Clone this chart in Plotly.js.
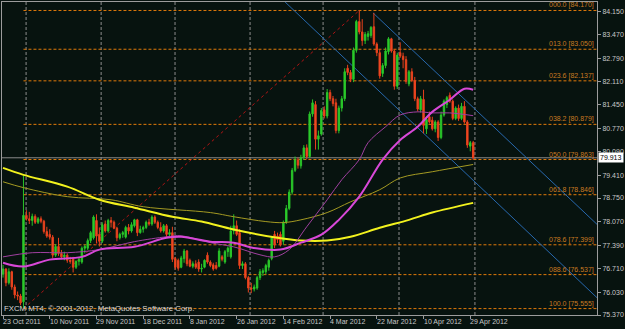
<!DOCTYPE html>
<html><head><meta charset="utf-8">
<script src="https://cdn.plot.ly/plotly-3.0.1.min.js"></script>
<style>html,body{margin:0;padding:0;background:#07130f;}#chart{width:625px;height:329px;}</style>
</head><body><div id="chart"></div>
<script>
// USDJPY daily (FXCM, MT4)
const openP = [76.55,76.70,76.30,76.62,76.18,75.95,75.92,75.75,78.25,78.15,78.10,78.22,78.05,78.15,78.08,77.78,77.70,77.62,77.10,77.35,
77.15,77.05,77.10,76.95,77.00,76.75,76.92,76.90,77.30,77.30,77.52,77.60,78.10,77.70,77.50,78.00,77.80,78.10,78.05,77.88,
77.60,77.70,77.62,77.90,77.80,77.95,78.12,77.75,77.85,77.90,78.05,78.00,78.20,78.05,77.90,77.80,77.95,77.70,77.75,77.00,
76.95,76.75,77.00,77.22,76.95,76.78,76.85,76.90,76.70,76.75,77.10,76.90,76.82,76.80,76.78,77.05,76.90,77.20,77.05,77.80,
77.95,77.75,76.80,76.85,76.45,76.15,76.12,76.15,76.45,76.60,76.62,76.75,77.00,77.70,77.65,77.70,77.50,78.05,78.45,78.92,
79.55,79.85,79.68,79.92,80.20,79.95,81.18,81.45,80.45,80.60,81.30,81.12,81.80,81.62,81.50,80.70,81.35,81.62,82.50,82.38,
82.18,83.02,83.85,83.55,83.30,83.42,83.45,83.70,83.20,82.95,82.35,82.58,82.98,83.35,83.00,81.98,82.95,82.85,82.75,82.05,
82.40,82.15,81.62,81.30,81.60,80.75,81.10,81.00,80.75,80.95,80.50,81.15,81.45,81.72,81.55,81.05,81.35,81.05,81.40,80.95,
80.25,80.35];
const highP = [76.82,76.72,76.72,76.65,76.25,76.05,75.98,79.40,78.40,78.35,78.30,78.28,78.20,78.22,78.12,77.92,77.85,77.68,77.42,77.60,
77.25,77.20,77.15,77.05,77.05,76.95,77.05,77.35,77.40,77.58,77.80,78.25,78.28,77.90,78.05,78.10,78.15,78.20,78.10,77.92,
77.75,77.80,77.95,78.00,78.05,78.15,78.15,77.95,77.95,78.10,78.15,78.25,78.25,78.10,78.05,78.00,78.00,77.85,77.92,77.05,
77.00,77.08,77.28,77.25,77.00,76.92,76.95,76.98,76.85,76.98,77.18,76.95,76.88,76.90,77.30,77.10,77.25,77.35,77.95,78.28,
78.10,77.85,76.92,76.90,76.50,76.30,76.25,76.50,76.70,76.72,76.85,77.00,77.65,77.80,77.75,77.78,78.10,78.55,79.00,79.62,
79.95,79.92,80.00,80.28,80.30,81.25,81.60,81.55,80.70,81.35,81.40,81.90,81.88,81.70,81.62,81.42,81.70,82.50,82.60,82.45,
83.10,83.90,84.18,83.92,83.55,83.58,83.72,84.10,83.25,83.05,82.65,83.10,83.40,83.38,83.05,82.95,83.25,82.95,82.85,82.45,
82.50,82.25,81.68,81.70,81.88,81.10,81.25,81.10,81.00,81.00,81.25,81.60,81.70,81.80,81.60,81.40,81.45,81.50,81.55,81.00,
80.40,80.40];
const lowP = [76.45,76.20,76.25,76.10,75.85,75.80,75.65,75.56,78.10,78.00,77.95,78.00,78.00,78.02,77.72,77.60,77.55,77.02,77.05,77.08,
76.98,76.95,76.88,76.85,76.60,76.70,76.80,76.85,77.15,77.25,77.45,77.55,77.45,77.35,77.45,77.75,77.75,77.90,77.85,77.50,
77.55,77.60,77.58,77.70,77.75,77.90,77.65,77.72,77.75,77.85,77.95,77.95,78.00,77.85,77.75,77.75,77.62,77.65,76.90,76.68,
76.65,76.72,76.88,76.78,76.75,76.72,76.70,76.62,76.60,76.72,76.85,76.75,76.65,76.68,76.75,76.92,76.85,77.05,77.00,77.70,
77.65,76.70,76.70,76.40,76.02,76.00,76.05,76.10,76.38,76.50,76.55,76.65,76.95,77.30,77.45,77.35,77.40,78.00,78.40,78.85,
79.50,79.60,79.60,79.85,79.88,79.90,81.10,80.15,80.15,80.55,81.05,81.05,81.55,81.40,80.62,80.62,81.25,81.55,82.30,82.10,
82.10,82.95,83.48,83.15,83.20,83.30,83.38,83.15,82.85,82.20,82.25,82.50,82.90,82.95,81.88,81.90,82.80,82.50,82.05,81.98,
82.10,81.55,81.25,81.22,80.62,80.60,80.90,80.70,80.65,80.40,80.45,81.10,81.35,81.50,81.00,81.00,80.98,81.00,80.90,80.20,
80.10,79.85];
const closeP = [76.70,76.30,76.62,76.18,75.95,75.92,75.72,78.25,78.15,78.10,78.22,78.05,78.15,78.08,77.78,77.65,77.62,77.10,77.35,77.15,
77.05,77.10,76.95,76.92,76.75,76.92,76.98,77.30,77.35,77.52,77.75,78.20,77.65,77.50,77.98,77.80,78.10,78.05,77.88,77.60,
77.70,77.75,77.90,77.80,77.98,78.12,77.75,77.85,77.90,78.05,78.00,78.20,78.05,77.90,77.80,77.95,77.70,77.75,76.98,76.75,
76.72,77.02,77.22,76.85,76.78,76.85,76.75,76.70,76.72,76.95,76.90,76.80,76.70,76.72,77.22,76.98,77.20,77.30,77.80,77.95,
77.70,76.80,76.85,76.45,76.15,76.12,76.18,76.45,76.62,76.65,76.80,76.95,77.60,77.40,77.55,77.40,78.05,78.45,78.92,79.55,
79.85,79.70,79.92,80.20,79.95,81.18,81.50,80.45,80.55,81.28,81.12,81.80,81.62,81.48,80.70,81.35,81.62,82.40,82.38,82.18,
83.02,83.85,83.55,83.30,83.48,83.50,83.68,83.20,82.95,82.28,82.58,83.00,83.35,83.00,81.98,82.88,82.85,82.75,82.12,82.40,
82.15,81.62,81.32,81.62,80.85,81.02,80.95,80.75,80.95,80.50,81.15,81.55,81.65,81.55,81.05,81.35,81.05,81.40,80.95,80.28,
80.35,79.913];

// x-axis labels (every 16 bars)
const dateTickIdx = [0,16,32,48,64,80,96,112,128,144,160];
const dateTickText = ['23 Oct 2011','10 Nov 2011','29 Nov 2011','18 Dec 2011','8 Jan 2012','26 Jan 2012','14 Feb 2012','4 Mar 2012','22 Mar 2012','10 Apr 2012','29 Apr 2012'];

// price scale labels
const priceTicks = [84.150,83.470,82.790,82.110,81.450,80.770,80.090,79.410,78.750,78.070,77.390,76.710,76.030,75.370];

// moving averages
const maYellowIdx = [0,7,22,33,45,58,68,79,94,102,111,119,129,139,147,161];
const maYellow    = [79.62,79.42,79.08,78.70,78.47,78.21,78.07,77.84,77.60,77.52,77.52,77.63,77.89,78.12,78.33,78.61];
const maOliveIdx  = [0,7,22,37,48,71,79,90,96,102,111,119,129,136,147,161];
const maOlive     = [79.22,79.05,78.79,78.70,78.50,78.33,78.21,78.07,78.04,78.12,78.33,78.64,78.99,79.33,79.51,79.72];
const maMagIdx    = [0,7,16,27,33,45,56,61,71,79,85,95,102,109,115,122,130,136,142,147,153,158,161];
const maMag       = [76.88,76.77,76.97,77.05,77.26,77.34,77.60,77.63,77.49,77.46,77.32,77.26,77.46,77.69,78.12,78.79,79.86,80.43,80.81,81.24,81.59,81.91,81.88];
const maPurIdx    = [0,10,22,33,45,56,61,71,79,88,93,98,104,111,116,122,125,131,136,142,147,153,161];
const maPur       = [77.05,77.17,77.17,77.26,77.49,77.63,77.66,77.46,77.34,77.11,77.05,77.26,77.92,78.70,79.28,79.86,80.35,80.81,81.15,81.24,81.21,81.21,81.13];

// Fibonacci retracement
const fibLevels = [84.170,83.050,82.137,80.879,79.863,78.846,77.399,76.537,75.555];
const fibNames  = ['000.0','013.0','023.6','038.2','050.0','061.8','078.6','088.6','100.0'];
const fibStartIdx = 7, fibEndIdx = 122;

// trend channel anchors [idx, price]
const channelA = [[126.7,84.10],[203.4,77.99]];
const channelB = [[96.6,84.415],[203.4,75.87]];

// grid lines (bar positions)
const gridIdx = [7.9,33.6,58.9,84.6,109.6,135.6,161.6];
const lastPrice = 79.913;

const idx = closeP.map((_,i)=>i);
const xMax = 203.4, yMin = 75.37, yMax = 84.415;
const FONT = 'Liberation Sans, Arial, sans-serif';

const traces = [
 {type:'scatter',mode:'lines',x:maOliveIdx,y:maOlive,line:{color:'#a49a22',width:1,shape:'spline'},hoverinfo:'skip'},
 {type:'scatter',mode:'lines',x:maYellowIdx,y:maYellow,line:{color:'#f2f21e',width:2,shape:'spline'},hoverinfo:'skip'},
 {type:'scatter',mode:'lines',x:maPurIdx,y:maPur,line:{color:'#a040a0',width:1,shape:'spline'},hoverinfo:'skip'},
 {type:'scatter',mode:'lines',x:maMagIdx,y:maMag,line:{color:'#d848d8',width:2,shape:'spline'},hoverinfo:'skip'},
 {type:'candlestick',x:idx,open:openP,high:highP,low:lowP,close:closeP,whiskerwidth:0,
  increasing:{line:{color:'#28c428',width:1},fillcolor:'#30d030'},
  decreasing:{line:{color:'#e8401c',width:1},fillcolor:'#f5502c'},hoverinfo:'skip'}
];

const shapes = [];
gridIdx.forEach(g=>shapes.push({type:'line',xref:'x',yref:'paper',x0:g,x1:g,y0:0,y1:1,layer:'below',line:{color:'#8c8c8c',width:1,dash:'3px,2px'}}));
fibLevels.forEach(v=>shapes.push({type:'line',xref:'x',yref:'y',x0:fibStartIdx,x1:xMax,y0:v,y1:v,layer:'below',line:{color:'#e07a0a',width:1,dash:'3px,2px'}}));
shapes.push({type:'line',xref:'x',yref:'y',x0:fibStartIdx,x1:fibEndIdx,y0:fibLevels[8],y1:fibLevels[0],layer:'below',line:{color:'#b01414',width:1,dash:'dot'}});
[channelA,channelB].forEach(c=>shapes.push({type:'line',xref:'x',yref:'y',x0:c[0][0],y0:c[0][1],x1:c[1][0],y1:c[1][1],layer:'below',line:{color:'#2768ad',width:1}}));
shapes.push({type:'line',xref:'paper',yref:'y',x0:0,x1:1,y0:lastPrice,y1:lastPrice,layer:'below',line:{color:'#8a8a8a',width:1}});

const annotations = fibLevels.map((v,k)=>({xref:'paper',yref:'y',x:1,y:v,xanchor:'right',yanchor:'bottom',xshift:-1,yshift:-1,showarrow:false,
  text:fibNames[k]+' ['+v.toFixed(3)+']',font:{family:FONT,size:7,color:'#c87a22'}}));
dateTickIdx.forEach((t,k)=>annotations.push({xref:'x',yref:'paper',x:t,y:0,xanchor:'left',yanchor:'top',xshift:-2,yshift:-1,showarrow:false,
  text:dateTickText[k],font:{family:FONT,size:7,color:'#c8c8c8'}}));
annotations.push({xref:'paper',yref:'paper',x:0,y:0,xanchor:'left',yanchor:'bottom',xshift:0,showarrow:false,
  text:'FXCM MT4, © 2001-2012, MetaQuotes Software Corp.',font:{family:FONT,size:7.8,color:'#d8d8d8'}});
annotations.push({xref:'paper',yref:'y',x:1,y:lastPrice,xanchor:'left',yanchor:'middle',xshift:1,showarrow:false,
  text:lastPrice.toFixed(3),bgcolor:'#ffffff',borderpad:1,font:{family:FONT,size:7,color:'#000000'}});

const layout = {
 width:625,height:329,margin:{l:2,r:28,t:2,b:14},
 paper_bgcolor:'#07130f',plot_bgcolor:'#07130f',showlegend:false,hovermode:false,
 xaxis:{range:[-0.35,xMax],tickmode:'array',tickvals:dateTickIdx,showticklabels:false,
   ticks:'outside',ticklen:3,tickcolor:'#9c9c9c',showgrid:false,zeroline:false,showline:true,linecolor:'#9c9c9c',mirror:true,
   rangeslider:{visible:false},fixedrange:true},
 yaxis:{range:[yMin,yMax],side:'right',tickmode:'array',tickvals:priceTicks,ticktext:priceTicks.map(v=>v.toFixed(3)),
   ticks:'outside',ticklen:3,tickcolor:'#9c9c9c',showgrid:false,zeroline:false,showline:true,linecolor:'#9c9c9c',mirror:true,
   tickfont:{family:FONT,size:7,color:'#c8c8c8'},fixedrange:true},
 shapes:shapes,annotations:annotations
};
Plotly.newPlot('chart',traces,layout,{displayModeBar:false,staticPlot:true});
</script></body></html>
